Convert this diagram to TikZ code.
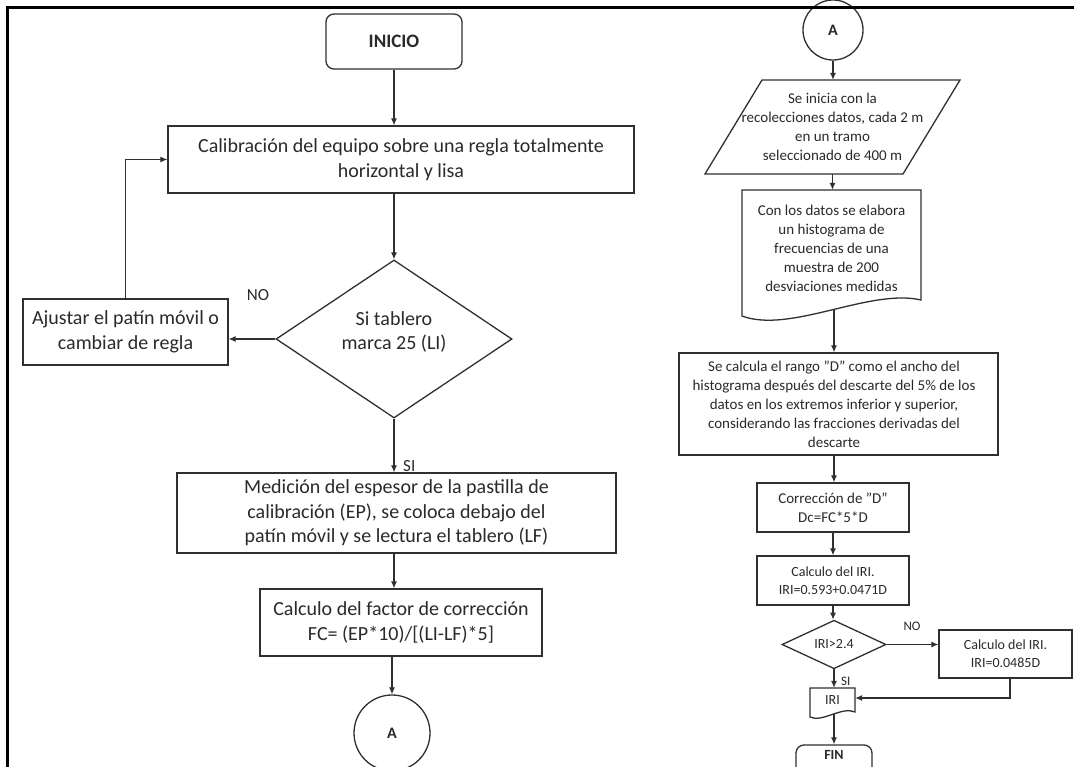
\documentclass[tikz,border=0pt]{standalone}
\usepackage{fontspec}
\setmainfont{Carlito}
\usetikzlibrary{arrows.meta,shapes.geometric}
\definecolor{linec}{HTML}{303030}
\definecolor{textc}{HTML}{2A2A2A}
\begin{document}
\begin{tikzpicture}[x=1pt,y=-1pt,
  box/.style={draw=linec, line width=1.3pt, inner sep=0pt, align=center, text=textc, font=\fontsize{20}{24.5}\selectfont},
  sbox/.style={box, font=\fontsize{15}{19}\selectfont},
  tbox/.style={box, font=\fontsize{14}{18}\selectfont},
  term/.style={box, rounded corners=8pt, font=\bfseries\fontsize{19}{22}\selectfont},
  conn/.style={circle, draw=linec, line width=1.3pt, inner sep=0pt, text=textc, font=\bfseries\fontsize{16}{20}\selectfont},
  shp/.style={draw=linec, line width=1.3pt},
  txt/.style={inner sep=0pt, align=center, text=textc},
  arr/.style={-{Latex[length=7pt,width=6pt]}, line width=1.1pt, draw=linec},
  lab/.style={inner sep=0pt, text=textc, font=\fontsize{17}{20}\selectfont},
  slab/.style={inner sep=0pt, text=textc, font=\fontsize{13}{16}\selectfont}]
\useasboundingbox (0,0) rectangle (1074,767);
\clip (0,0) rectangle (1074,767);
\fill[white] (0,0) rectangle (1074,767);

% ---------- left column ----------
\node[term, minimum width=136pt, minimum height=55pt] (inicio) at (394,41.5) {INICIO};
\node[box, minimum width=466pt, minimum height=67pt] (calib) at (401,159.5)
  {Calibración del equipo sobre una regla totalmente\\horizontal y lisa};
\node[box, diamond, minimum width=236pt, minimum height=158pt] (dec1) at (394,339) {};
\node[txt, font=\fontsize{20}{24.5}\selectfont] (dec1t) at (394,332)
  {Si tablero\\marca 25 (LI)};
\node[box, minimum width=205pt, minimum height=66pt] (ajus) at (125.5,332)
  {Ajustar el patín móvil o\\cambiar de regla};
\node[box, minimum width=439pt, minimum height=80pt] (med) at (396.5,513)
  {Medición del espesor de la pastilla de\\calibración (EP), se coloca debajo del\\patín móvil y se lectura el tablero (LF)};
\node[box, minimum width=282pt, minimum height=67pt] (calc) at (401,622.5)
  {Calculo del factor de corrección\\FC= (EP*10)/[(LI-LF)*5]};
\node[conn, minimum size=76pt] (ca) at (392,733) {A};

\node[lab, anchor=center] (no1) at (258,295) {NO};
\node[lab, anchor=west] (si1) at (403,466) {SI};

\draw[arr] (inicio.south) -- (inicio.south |- calib.north);
\draw[arr] (dec1.north |- calib.south) -- (dec1.north);
\draw[arr] (dec1.west) -- (dec1.west -| ajus.east);
\draw[arr] (ajus.north) |- (calib.west);
\draw[arr] (dec1.south) -- (dec1.south |- med.north);
\draw[arr] (dec1.south |- med.south) -- (dec1.south |- calc.north);
\draw[arr] (ca.north |- calc.south) -- (ca.north);

% ---------- right column ----------
\node[conn, minimum size=60pt] (cb) at (833,30) {A};
\draw[shp] (762,80) -- (960,80) -- (903,174) -- (705,174) -- cycle;
\node[txt, font=\fontsize{15}{19}\selectfont, minimum width=198pt, minimum height=94pt] (para) at (832.5,127)
  {Se inicia con la\\recolecciones datos, cada 2 m\\en un tramo\\seleccionado de 400 m};
\draw[shp] (921,190) -- (742,190) -- (742,316) .. controls (790,334) and (870,288) .. (921,300) -- cycle;
\node[txt, font=\fontsize{15}{19}\selectfont, minimum width=179pt, minimum height=128pt] (doc1) at (831.5,254) {};
\node[txt, font=\fontsize{15}{19}\selectfont] (doc1t) at (831.5,248)
  {Con los datos se elabora\\un histograma de\\frecuencias de una\\muestra de 200\\desviaciones medidas};
\coordinate (doc1b) at (834,310);
\node[sbox, minimum width=319pt, minimum height=102pt] (big) at (838.5,404) {};
\node[txt, font=\fontsize{15}{19}\selectfont] (bigt) at (834,404)
  {Se calcula el rango "D" como el ancho del\\histograma después del descarte del 5\% de los\\datos en los extremos inferior y superior,\\considerando las fracciones derivadas del\\descarte};
\node[sbox, minimum width=152pt, minimum height=49pt] (corr) at (833,507.5)
  {Corrección de "D"\\Dc=FC*5*D};
\node[tbox, minimum width=152pt, minimum height=49pt] (iri1) at (833,580.5)
  {Calculo del IRI.\\IRI=0.593+0.0471D};
\node[tbox, diamond, minimum width=104pt, minimum height=47pt] (dec2) at (834,644.5) {IRI>2.4};
\node[tbox, minimum width=133pt, minimum height=48pt] (iri2) at (1005.5,654)
  {Calculo del IRI.\\IRI=0.0485D};
\draw[shp] (855,688) -- (810,688) -- (810,717) .. controls (822,723) and (842,706) .. (855,712) -- cycle;
\node[txt, minimum width=45pt, minimum height=29pt] (doc2) at (832.5,702.5) {};
\node[txt, font=\fontsize{14}{18}\selectfont] (doc2t) at (832.5,700) {IRI};
\coordinate (doc2b) at (834,714);
\node[term, minimum width=76pt, minimum height=30pt, font=\bfseries\fontsize{14}{18}\selectfont] (fin) at (834,760) {};
\node[txt, font=\bfseries\fontsize{14}{18}\selectfont] (fint) at (834,755) {FIN};

\node[slab] (no2) at (912,626) {NO};
\node[slab, anchor=west] (si2) at (841,681) {SI};

\draw[arr] (cb.south) -- (cb.south |- para.north);
\draw[arr] (para.south) -- (para.south |- doc1.north);
\draw[arr] (doc1b) -- (doc1b |- big.north);
\draw[arr] (doc1b |- big.south) -- (doc1b |- corr.north);
\draw[arr] (corr.south) -- (iri1.north);
\draw[arr] (iri1.south) -- (iri1.south |- dec2.north);
\draw[arr] (dec2.east) -- (dec2.east -| iri2.west);
\draw[arr] (dec2.south) -- (dec2.south |- doc2.north);
\coordinate (jn) at (1010,698);
\draw[arr] (jn |- iri2.south) -- (jn) -- (jn -| doc2.east);
\draw[arr] (doc2b) -- (doc2b |- fin.north);

% ---------- frame ----------
\draw[black, line width=2.6pt] (7.5,767) -- (7.5,7.5) -- (1074,7.5);
\end{tikzpicture}
\end{document}
